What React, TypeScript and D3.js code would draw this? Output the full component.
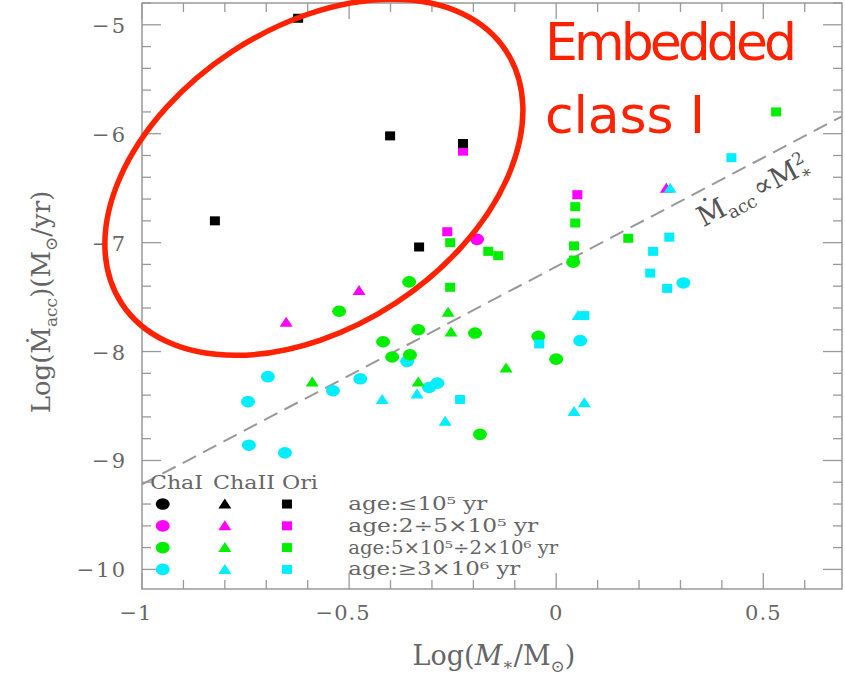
import { useRef, useEffect } from 'react';
import * as d3 from 'd3';

// ─── Data: [log M*, log Macc] ────────────────────────────────────────────────
const oriAge1 = [[-0.623, -4.94], [-0.401, -6.02], [-0.225, -6.09], [-0.824, -6.80], [-0.331, -7.04]];
const oriAge2 = [[-0.225, -6.16], [-0.263, -6.90], [0.051, -6.56]];
const oriAge3 = [[-0.256, -7.00], [-0.164, -7.08], [-0.140, -7.12], [-0.256, -7.41], [0.046, -6.67],
  [0.046, -6.82], [0.043, -7.03], [0.043, -7.16], [0.174, -6.96], [0.531, -5.80]];
const oriAge4 = [[-0.232, -8.44], [-0.041, -7.93], [0.423, -6.22], [0.273, -6.95], [0.234, -7.08],
  [0.227, -7.28], [0.268, -7.42], [0.068, -7.67]];

const chaIAge2 = [[-0.191, -6.97]];
const chaIAge3 = [[-0.355, -7.36], [-0.524, -7.63], [-0.333, -7.80], [-0.418, -7.91], [-0.396, -8.05],
  [-0.353, -8.03], [-0.196, -7.83], [-0.043, -7.86], [0.0, -8.07], [-0.184, -8.76], [0.041, -7.18]];
const chaIAge4 = [[-0.696, -8.23], [-0.744, -8.46], [-0.742, -8.86], [-0.655, -8.93], [-0.539, -8.36],
  [-0.473, -8.25], [-0.360, -8.09], [-0.287, -8.29], [-0.307, -8.33], [0.058, -7.90], [0.307, -7.37]];

const chaIIAge2 = [[-0.652, -7.73], [-0.476, -7.44], [0.266, -6.50]];
const chaIIAge3 = [[-0.589, -8.28], [-0.261, -7.64], [-0.254, -7.82], [-0.333, -8.28], [-0.121, -8.15]];
const chaIIAge4 = [[-0.420, -8.44], [-0.336, -8.39], [-0.268, -8.64], [0.043, -8.55], [0.068, -8.47],
  [0.275, -6.50], [0.053, -7.67]];

const AGE_COLORS = ['#000000', '#ff00ff', '#00ee00', '#00eeff'];
const AGE_LABELS = ['age:≤10⁵ yr', 'age:2÷5×10⁵ yr', 'age:5×10⁵÷2×10⁶ yr', 'age:≥3×10⁶ yr'];
const REGIONS = ['ChaI', 'ChaII', 'Ori'];

const X_TICKS = [-1, -0.5, 0, 0.5];
const Y_TICKS = [-10, -9, -8, -7, -6, -5];

// Macc ∝ M*^2 reference line: log Macc = 2 log M* + b
const SLOPE = 2;
const INTERCEPT = -7.22;

const W = 845, H = 675;

function drawMarker(g, shape, cx, cy, color) {
  if (shape === 'circle') {
    g.append('ellipse').attr('cx', cx).attr('cy', cy).attr('rx', 7).attr('ry', 5.8).attr('fill', color);
  } else if (shape === 'triangle') {
    g.append('path')
      .attr('d', `M${cx - 6.5},${cy + 4.5}L${cx + 6.5},${cy + 4.5}L${cx},${cy - 5.5}Z`)
      .attr('fill', color);
  } else {
    g.append('rect').attr('x', cx - 5).attr('y', cy - 4.5).attr('width', 10).attr('height', 9).attr('fill', color);
  }
}

export default function App() {
  const ref = useRef(null);

  useEffect(() => {
    const svg = d3.select(ref.current);
    svg.selectAll('*').remove();

    const left = 142, right = 842, top = 3, bottom = 589;
    const x = d3.scaleLinear().domain([-1, 0.69]).range([left, right]);
    const y = d3.scaleLinear().domain([-10.18, -4.80]).range([bottom, top]);

    const axisColor = '#999';
    const textColor = '#666';
    const serif = "'DejaVu Serif', 'Liberation Serif', serif";

    svg.append('rect').attr('width', W).attr('height', H).attr('fill', '#fff');

    // Frame
    svg.append('rect').attr('x', left).attr('y', top).attr('width', right - left).attr('height', bottom - top)
      .attr('fill', 'none').attr('stroke', axisColor).attr('stroke-width', 1.5);

    // Ticks on all four sides
    const tk = svg.append('g').attr('stroke', axisColor).attr('stroke-width', 1.3);
    const xMinor = d3.range(-10, 7).map(d => d / 10);
    xMinor.forEach(v => {
      const major = Math.abs(v * 2 - Math.round(v * 2)) < 1e-6;
      const len = major ? 16 : 9;
      tk.append('line').attr('x1', x(v)).attr('x2', x(v)).attr('y1', bottom).attr('y2', bottom - len);
      tk.append('line').attr('x1', x(v)).attr('x2', x(v)).attr('y1', top).attr('y2', top + len);
    });
    const yMinor = d3.range(-50, -23).map(d => d / 5);
    yMinor.forEach(v => {
      const major = Math.abs(v - Math.round(v)) < 1e-6;
      const len = major ? 19 : 9;
      tk.append('line').attr('y1', y(v)).attr('y2', y(v)).attr('x1', left).attr('x2', left + len);
      tk.append('line').attr('y1', y(v)).attr('y2', y(v)).attr('x1', right).attr('x2', right - len);
    });

    const fmt = v => (v < 0 ? '−' : '') + Math.abs(v);

    svg.append('g').selectAll('text').data(X_TICKS).join('text')
      .attr('x', d => x(d) + (d < 0 ? -6 : 0)).attr('y', 620)
      .attr('text-anchor', 'middle').attr('font-family', serif).attr('font-size', 21).attr('fill', textColor)
      .attr('letter-spacing', 1)
      .text(fmt);

    svg.append('g').selectAll('text').data(Y_TICKS).join('text')
      .attr('x', 127).attr('y', d => y(d) + 8)
      .attr('text-anchor', 'end').attr('font-family', serif).attr('font-size', 21).attr('fill', textColor)
      .attr('letter-spacing', 2)
      .text(fmt);

    // Axis titles
    const xl = svg.append('text').attr('x', 494).attr('y', 665).attr('text-anchor', 'middle')
      .attr('font-family', serif).attr('font-size', 27).attr('fill', textColor);
    xl.append('tspan').text('Log(');
    xl.append('tspan').attr('font-style', 'italic').text('M');
    xl.append('tspan').attr('dy', 5).attr('font-size', 17).text('∗');
    xl.append('tspan').attr('dy', -5).text('/M');
    xl.append('tspan').attr('dy', 7).attr('font-size', 17).text('⊙');
    xl.append('tspan').attr('dy', -7).text(')');

    const yl = svg.append('text').attr('transform', 'translate(50,302) rotate(-90)').attr('text-anchor', 'middle')
      .attr('font-family', serif).attr('font-size', 26).attr('fill', textColor);
    yl.append('tspan').text('Log(Ṁ');
    yl.append('tspan').attr('dy', 7).attr('font-size', 17).text('acc');
    yl.append('tspan').attr('dy', -7).text(')(M');
    yl.append('tspan').attr('dy', 7).attr('font-size', 17).text('⊙');
    yl.append('tspan').attr('dy', -7).text('/yr)');

    // Dashed Macc ∝ M^2 line
    const lx0 = -1, lx1 = 0.69;
    svg.append('line')
      .attr('x1', x(lx0)).attr('y1', y(SLOPE * lx0 + INTERCEPT))
      .attr('x2', x(lx1)).attr('y2', y(SLOPE * lx1 + INTERCEPT))
      .attr('stroke', '#999').attr('stroke-width', 2).attr('stroke-dasharray', '15,8');

    const angle = Math.atan2(y(SLOPE * lx1 + INTERCEPT) - y(SLOPE * lx0 + INTERCEPT), x(lx1) - x(lx0)) * 180 / Math.PI;
    const lblX = x(0.355), lblY = y(-6.86);
    const sl = svg.append('text').attr('transform', `translate(${lblX},${lblY}) rotate(${angle})`)
      .attr('font-family', serif).attr('font-size', 28).attr('fill', '#555');
    sl.append('tspan').text('Ṁ');
    sl.append('tspan').attr('dy', 6).attr('font-size', 18).text('acc');
    sl.append('tspan').attr('dy', -6).attr('dx', 3).text('∝');
    sl.append('tspan').text('M');
    sl.append('tspan').attr('dy', -11).attr('font-size', 17).text('2');
    sl.append('tspan').attr('dy', 16).attr('dx', -10).attr('font-size', 17).text('∗');

    // Data markers
    const series = [
      { data: chaIAge4, shape: 'circle', age: 3 },
      { data: chaIAge3, shape: 'circle', age: 2 },
      { data: chaIAge2, shape: 'circle', age: 1 },
      { data: chaIIAge2, shape: 'triangle', age: 1 },
      { data: chaIIAge4, shape: 'triangle', age: 3 },
      { data: chaIIAge3, shape: 'triangle', age: 2 },
      { data: oriAge4, shape: 'square', age: 3 },
      { data: oriAge3, shape: 'square', age: 2 },
      { data: oriAge2, shape: 'square', age: 1 },
      { data: oriAge1, shape: 'square', age: 0 },
    ];
    const pts = svg.append('g');
    series.forEach(s => {
      s.data.forEach(([mx, my]) => drawMarker(pts, s.shape, x(mx), y(my), AGE_COLORS[s.age]));
    });

    // Legend
    const lg = svg.append('g').attr('font-family', serif).attr('fill', textColor);
    const headX = [150, 213, 282];
    const headW = [53, 62, 36];
    REGIONS.forEach((r, i) => {
      lg.append('text').attr('x', headX[i]).attr('y', y(-9.2) + 7).attr('font-size', 19)
        .attr('textLength', headW[i]).attr('lengthAdjust', 'spacingAndGlyphs').text(r);
    });
    const colX = [x(-0.95), x(-0.80), x(-0.65)];
    const shapes = ['circle', 'triangle', 'square'];
    const labelW = [139, 190, 210, 172];
    AGE_LABELS.forEach((label, i) => {
      const ry = y(-9.4 - 0.2 * i);
      shapes.forEach((sh, j) => drawMarker(lg, sh, colX[j], ry, AGE_COLORS[i]));
      lg.append('text').attr('x', x(-0.502)).attr('y', ry + 6).attr('font-size', 18)
        .attr('textLength', labelW[i]).attr('lengthAdjust', 'spacingAndGlyphs').text(label);
    });

    // Red annotation
    const ecx = x(-0.585), ecy = y(-6.40);
    svg.append('ellipse')
      .attr('transform', `translate(${ecx},${ecy}) rotate(-33.4)`)
      .attr('rx', 230).attr('ry', 150)
      .attr('fill', 'none').attr('stroke', '#ff2200').attr('stroke-width', 5.5);

    const red = svg.append('g').attr('font-family', "'Comic Sans MS', 'DejaVu Sans', sans-serif")
      .attr('fill', '#ff2200').attr('font-size', 52);
    red.append('text').attr('x', x(-0.027)).attr('y', y(-5.32)).attr('textLength', 252).text('Embedded');
    red.append('text').attr('x', x(-0.027)).attr('y', y(-5.99)).attr('textLength', 160).text('class I');
  }, []);

  return (
    <svg ref={ref} width={W} height={H} viewBox={`0 0 ${W} ${H}`}
      style={{ position: 'absolute', left: 0, top: 0, display: 'block' }} />
  );
}
